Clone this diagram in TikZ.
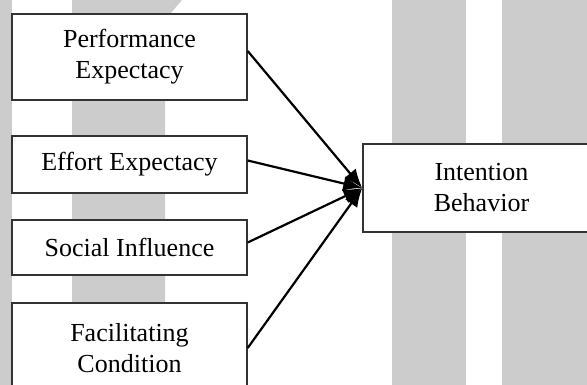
\documentclass[tikz,border=0pt]{standalone}
\usepackage{fontspec}
\setmainfont{Liberation Serif}
\usetikzlibrary{arrows.meta}

\tikzset{
  box/.style={shape=rectangle, draw=black!80, line width=1.4pt, fill=white,
    align=center, inner sep=0pt, font=\fontsize{26}{31}\selectfont},
  link/.style={line width=2.2pt, -{Latex[length=19pt,width=15pt]}}
}

\begin{document}
\begin{tikzpicture}[x=1pt, y=-1pt]
            \useasboundingbox (0,0) rectangle (587,385);
            \clip (0,0) rectangle (587,385);

            % background stripes
            \fill[black!20] (0,0) rectangle (12,385);
            \fill[black!20] (72,0) -- (182,0) -- (165,20) -- (165,385) -- (72,385) -- cycle;
            \fill[black!20] (392,0) rectangle (466,385);
            \fill[black!20] (502,0) rectangle (587,385);

            \node[box, minimum width=235pt, minimum height=86pt] (pe) at (129.5, 57){Performance\\Expectacy};
            \node[box, minimum width=235pt, minimum height=57pt] (ee) at (129.5, 164.5){Effort Expectacy};
            \node[box, minimum width=235pt, minimum height=55pt] (si) at (129.5, 247.5){Social Influence};
            \node[box, minimum width=235pt, minimum height=90pt] (fc) at (129.5, 348){Facilitating\\Condition};

            \node[box, minimum width=237pt, minimum height=88pt] (ib) at (481.5, 188){Intention\\Behavior};

            \path [link] ([yshift=6pt]pe.east) edge (ib.west);
            \path [link] ([yshift=4pt]ee.east) edge (ib.west);
            \path [link] ([yshift=5pt]si.east) edge (ib.west);
            \path [link] (fc.east) edge (ib.west);
        \end{tikzpicture}
\end{document}
